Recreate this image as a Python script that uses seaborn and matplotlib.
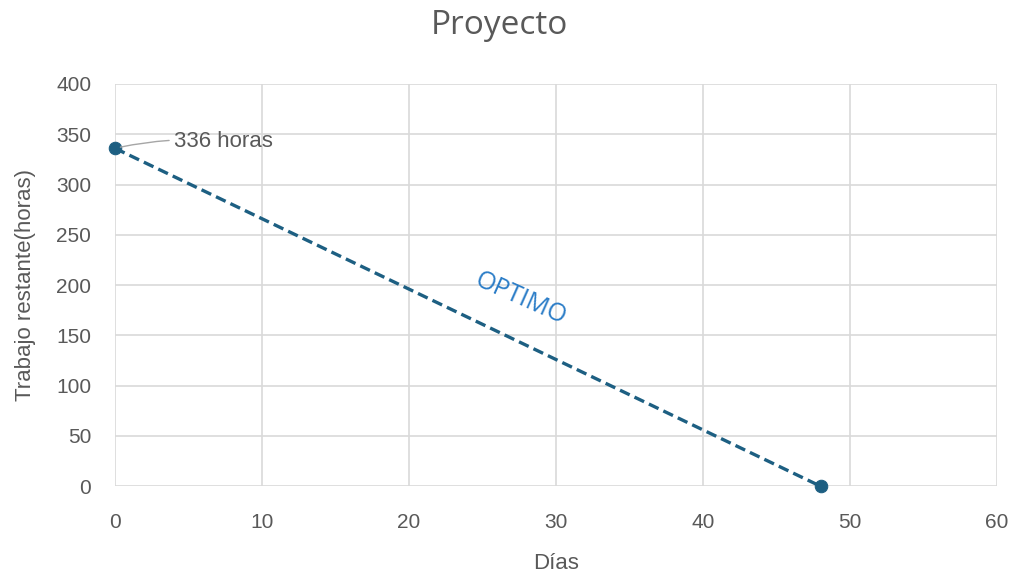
import matplotlib
matplotlib.use("Agg")
import matplotlib.pyplot as plt
import seaborn as sns
import pandas as pd

# Data
dias = [0, 48]
trabajo_restante = [336, 0]
x_ticks = [0, 10, 20, 30, 40, 50, 60]
y_ticks = [0, 50, 100, 150, 200, 250, 300, 350, 400]

line_color = "#1d5f82"
text_gray = "#595959"
base_font = ['Liberation Sans', 'DejaVu Sans']

sns.set_theme(style="whitegrid")
plt.rcParams['font.family'] = base_font

df = pd.DataFrame({"dias": dias, "trabajo": trabajo_restante})

fig = plt.figure(figsize=(10.22, 5.83), dpi=100)
ax = fig.add_axes([0.1125, 0.166, 0.863, 0.690])

sns.lineplot(data=df, x="dias", y="trabajo", ax=ax, color=line_color,
             linestyle="--", linewidth=2.4, marker="o", markersize=9,
             markeredgecolor=line_color)
ax.lines[0].set_dashes((3.2, 1.6))
ax.lines[0].set_clip_on(False)

ax.set_xlim(0, 60)
ax.set_ylim(0, 400)
ax.set_xticks(x_ticks)
ax.set_yticks(y_ticks)
ax.grid(True, color="#d9d9d9", linewidth=1.2)
for s in ax.spines.values():
    s.set_visible(False)
ax.tick_params(axis="x", labelsize=15, colors=text_gray, length=0, pad=19)
ax.tick_params(axis="y", labelsize=15, colors=text_gray, length=0, pad=17)

ax.set_xlabel("Días", fontsize=16, color=text_gray)
ax.set_ylabel("Trabajo restante(horas)", fontsize=16, color=text_gray)
ax.xaxis.set_label_coords(0.5, -0.165)
ax.yaxis.set_label_coords(-0.09, 0.5)
fig.text(0.489, 0.957, "Proyecto", fontsize=24, color=text_gray,
         ha="center", va="center", family=['Open Sans', 'DejaVu Sans'])

ax.annotate("336 horas", xy=(dias[0], trabajo_restante[0]), xytext=(4.0, 343),
            fontsize=16, color=text_gray, va="center", ha="left",
            arrowprops=dict(arrowstyle="-", color="#a6a6a6", lw=1,
                            connectionstyle="arc3,rad=0.08", shrinkA=1, shrinkB=4))

ax.text(27.6, 186, "OPTIMO", fontsize=18, color="#2a7cc7", rotation=-24,
        ha="center", va="center", family=['Open Sans', 'DejaVu Sans'])

fig.savefig("out.png", dpi=100, facecolor="white")
